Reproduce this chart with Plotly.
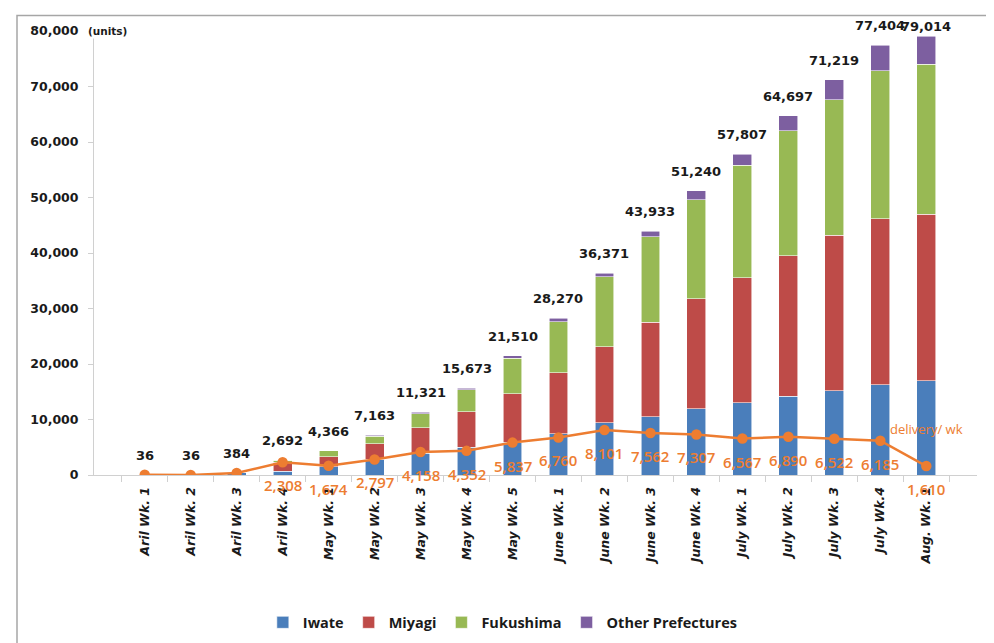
import plotly.graph_objects as go

weeks = ["Aril Wk. 1", "Aril Wk. 2", "Aril Wk. 3", "Aril Wk. 4",
         "May Wk. 1", "May Wk. 2", "May Wk. 3", "May Wk. 4", "May Wk. 5",
         "June Wk. 1", "June Wk. 2", "June Wk. 3", "June Wk. 4",
         "July Wk. 1", "July Wk. 2", "July Wk. 3", "July Wk.4", "Aug. Wk. 1"]

iwate = [36, 36, 384, 700, 1500, 2800, 3950, 5000, 5900, 7400, 9400, 10500, 11900, 13000, 14200, 15200, 16300, 17000]
miyagi = [0, 0, 0, 1600, 1750, 2800, 4600, 6400, 8700, 11000, 13700, 17000, 19900, 22500, 25300, 28000, 29900, 30000]
fukushima = [0, 0, 0, 392, 1100, 1400, 2500, 4000, 6400, 9200, 12600, 15400, 17800, 20300, 22500, 24400, 26600, 27000]
other = [0, 0, 0, 0, 16, 163, 271, 273, 510, 670, 671, 1033, 1640, 2007, 2697, 3619, 4604, 5014]

totals = [36, 36, 384, 2692, 4366, 7163, 11321, 15673, 21510, 28270, 36371, 43933, 51240, 57807, 64697, 71219, 77404, 79014]
delivery = [36, 0, 348, 2308, 1674, 2797, 4158, 4352, 5837, 6760, 8101, 7562, 7307, 6567, 6890, 6522, 6185, 1610]

y_ticks = [0, 10000, 20000, 30000, 40000, 50000, 60000, 70000, 80000]

FONT = "Open Sans"
AXFONT = "DejaVu Sans"
ORANGE = "#ED7D31"

fig = go.Figure()
series = [("Iwate", iwate, "#4A7EBB"), ("Miyagi", miyagi, "#BE4B48"),
          ("Fukushima", fukushima, "#98B954"), ("Other Prefectures", other, "#7D5FA0")]
for name, vals, col in series:
    fig.add_trace(go.Bar(x=weeks, y=vals, name=name, marker_color=col,
                         marker_line=dict(color="rgba(255,255,255,0.7)", width=0.8)))

fig.add_trace(go.Scatter(x=weeks, y=delivery, mode="lines+markers", showlegend=False,
                         line=dict(color=ORANGE, width=2.5),
                         marker=dict(color=ORANGE, size=10.5), name="delivery/ wk"))

n = len(weeks)
for i, (w, t) in enumerate(zip(weeks, totals)):
    fig.add_annotation(x=w, y=t, text=f"{t:,}", showarrow=False, yanchor="bottom",
                       yshift=10 if i < n - 1 else 0,
                       font=dict(family=AXFONT, size=13, color="#1a1a1a", weight="bold"))
for i, (w, d) in enumerate(zip(weeks, delivery)):
    if i < 3:
        continue
    fig.add_annotation(x=w, y=d, text=f"{d:,}", showarrow=False, yanchor="top",
                       yshift=-11, font=dict(family=FONT, size=15, color=ORANGE, weight=600))

fig.add_annotation(x=weeks[-1], y=8300, text="delivery/ wk", showarrow=False,
                   font=dict(family=FONT, size=13, color=ORANGE))
fig.add_annotation(xref="paper", yref="paper", x=-0.009, y=1.0, xanchor="left",
                   yanchor="middle", text="(units)", showarrow=False, bgcolor="white",
                   font=dict(family=AXFONT, size=10.5, color="#1a1a1a", weight="bold"))

# outer chart border
fig.add_shape(type="rect", xref="paper", yref="paper",
              x0=-0.0872, x1=1.04, y0=-0.39, y1=1.035,
              line=dict(color="#a6a6a6", width=1.5), fillcolor="rgba(0,0,0,0)", layer="below")

fig.update_layout(
    width=994, height=643,
    margin=dict(l=86, r=25, t=23, b=168),
    paper_bgcolor="white", plot_bgcolor="white",
    barmode="stack", bargap=0.59,
    font=dict(family=FONT, color="#1a1a1a"),
    legend=dict(orientation="h", x=0.463, xanchor="center", y=-0.332, yanchor="middle",
                font=dict(family=FONT, size=14.5, weight="bold"), traceorder="normal",
                itemwidth=30),
    xaxis=dict(type="category", showline=True, linecolor="#d0d0d0", linewidth=1,
               ticks="outside", tickson="boundaries", ticklen=6, tickcolor="#d0d0d0",
               tickangle=-90, showgrid=False, ticklabelstandoff=6,
               tickfont=dict(family=AXFONT, size=12.5, style="italic", weight="bold")),
    yaxis=dict(range=[0, 80000], tickvals=y_ticks, tickformat=",", showline=True,
               linecolor="#d0d0d0", linewidth=1, ticks="outside", ticklen=5,
               tickcolor="#d0d0d0", showgrid=False, zeroline=False, ticklabelstandoff=7,
               tickfont=dict(family=AXFONT, size=12.5, weight="bold")),
)

fig.write_html("out.html")
